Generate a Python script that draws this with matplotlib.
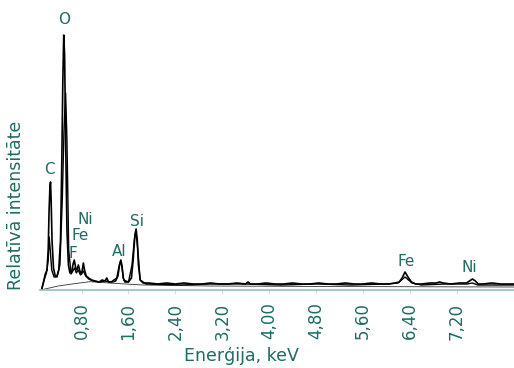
import numpy as np
import matplotlib.pyplot as plt

# EDS spectrum (energy keV, relative intensity)
energy_a = [0.12, 0.15, 0.18, 0.21, 0.23, 0.245, 0.26, 0.27, 0.28, 0.295, 0.32, 0.35,
            0.38, 0.41, 0.44, 0.46, 0.48, 0.495, 0.51, 0.53, 0.55, 0.575, 0.60, 0.63,
            0.655, 0.675, 0.70, 0.72, 0.745, 0.77, 0.80, 0.83, 0.85, 0.88, 0.92, 0.97,
            1.03, 1.10, 1.15, 1.20, 1.23, 1.26, 1.32, 1.38, 1.42, 1.45, 1.47, 1.49,
            1.51, 1.54, 1.60, 1.65, 1.68, 1.71, 1.73, 1.75, 1.77, 1.80, 1.85, 1.95,
            2.10, 2.25, 2.40, 2.55, 2.70, 2.85, 3.00, 3.15, 3.30, 3.45, 3.60, 3.64,
            3.68, 3.80, 3.95, 4.10, 4.25, 4.40, 4.55, 4.70, 4.85, 5.00, 5.15, 5.30,
            5.45, 5.60, 5.75, 5.90, 6.05, 6.15, 6.22, 6.27, 6.32, 6.37, 6.43, 6.50,
            6.60, 6.75, 6.85, 6.91, 6.97, 7.10, 7.25, 7.37, 7.42, 7.47, 7.52, 7.57,
            7.65, 7.80, 7.95, 8.10, 8.18]
inten_a = [1, 8, 16, 20, 40, 80, 104, 108, 90, 50, 22, 14,
           14, 20, 50, 120, 210, 255, 235, 140, 60, 25, 17, 18,
           26, 30, 22, 20, 25, 19, 16, 27, 20, 14, 12, 10,
           9, 8, 10, 9, 12, 8, 8, 9, 14, 26, 30, 24,
           12, 8, 8, 12, 30, 55, 61, 50, 25, 10, 7, 7,
           6, 7, 6, 7, 6, 6, 7, 6, 6, 7, 6, 8,
           6, 6, 7, 6, 6, 7, 6, 6, 7, 6, 6, 7,
           6, 6, 7, 6, 6, 7, 8, 12, 18, 13, 8, 6,
           6, 7, 7, 8, 7, 6, 7, 7, 9, 11, 9, 6,
           6, 7, 6, 6, 6]

energy_b = [0.12, 0.16, 0.20, 0.23, 0.247, 0.265, 0.29, 0.33, 0.38, 0.43, 0.47, 0.50,
            0.527, 0.55, 0.58, 0.62, 0.66, 0.68, 0.71, 0.745, 0.78, 0.83, 0.87, 0.92,
            1.00, 1.10, 1.20, 1.30, 1.40, 1.44, 1.466, 1.49, 1.52, 1.60, 1.66, 1.70,
            1.727, 1.76, 1.80, 1.90, 2.50, 3.00, 3.60, 4.20, 4.80, 5.40, 6.00, 6.20,
            6.32, 6.44, 6.60, 7.00, 7.38, 7.47, 7.56, 7.90, 8.18]
inten_b = [1, 10, 17, 30, 53, 40, 20, 13, 13, 25, 90, 160,
           197, 150, 40, 16, 20, 22, 17, 20, 15, 19, 14, 11,
           9, 8, 9, 8, 12, 24, 29, 22, 10, 8, 25, 50,
           59, 40, 10, 6, 5, 6, 6, 5, 6, 5, 6, 7,
           13, 7, 5, 6, 6, 7, 5, 5, 5]

# background curve
energy_bg = [0.10, 0.40, 0.70, 0.94, 1.40, 1.85, 3.00, 5.00, 8.18]
inten_bg = [0, 4, 6.5, 8.3, 6.5, 5, 4, 3.5, 3]

ticks = [0.80, 1.60, 2.40, 3.20, 4.00, 4.80, 5.60, 6.40, 7.20]
tick_labels = ['0,80', '1,60', '2,40', '3,20', '4,00', '4,80', '5,60', '6,40', '7,20']

# element labels: text, energy, intensity
elements = ['O', 'C', 'Ni', 'Fe', 'F', 'Al', 'Si', 'Fe', 'Ni']
el_x = [0.504, 0.248, 0.857, 0.783, 0.657, 1.442, 1.739, 6.333, 7.410]
el_y = [270, 120, 71, 54, 37, 39, 69, 29, 23]

teal = '#1d6b63'
plt.rcParams['font.family'] = ['DejaVu Sans']

fig = plt.figure(figsize=(5.14, 3.68), dpi=100)
ax = fig.add_axes([40/514, 78/368, 474/514, 265/368])

ax.plot(energy_bg, inten_bg, color='#333333', lw=0.6)
ax.plot(energy_b, inten_b, color='black', lw=1.0)
ax.plot(energy_a, inten_a, color='black', lw=1.2)

for t, x, y in zip(elements, el_x, el_y):
    ax.text(x, y, t, color=teal, fontsize=11, ha='center', va='center')

ax.set_xlim(0.09, 8.18)
ax.set_ylim(0, 265)
ax.set_xticks(ticks)
ax.set_xticklabels(tick_labels, rotation=90, color=teal, fontsize=12)
ax.tick_params(axis='x', length=3, color='#dddddd', pad=6)
ax.set_yticks([])
for s in ['top', 'right', 'left']:
    ax.spines[s].set_visible(False)
ax.spines['bottom'].set_color('#8cc4c4')
ax.spines['bottom'].set_linewidth(1.2)

fig.text(15.7/514, 1 - 205/368, 'Relatīvā intensitāte', rotation=90, color=teal,
         fontsize=12.5, ha='center', va='center')
fig.text(241/514, 1 - 356/368, 'Enerģija, keV', color=teal, fontsize=12.5,
         ha='center', va='center')

fig.savefig('out.png', dpi=100)
